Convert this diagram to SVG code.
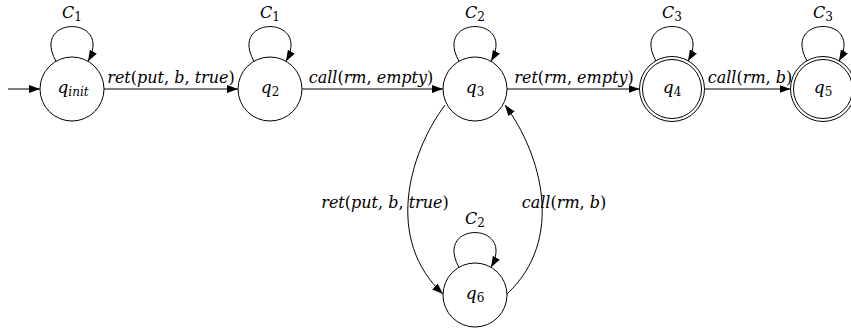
<svg xmlns="http://www.w3.org/2000/svg" width="851" height="330" viewBox="0 0 851 330">
<style>
.n{fill:#fff;stroke:#000;stroke-width:1}
.e{fill:none;stroke:#000;stroke-width:1;marker-end:url(#arr)}
text{font-family:"DejaVu Serif","Liberation Serif",serif;font-size:16px;font-style:italic;fill:#000}
.lbl{text-anchor:middle}
.u{font-style:normal}
.s{font-size:12px}
.q{font-size:17px}
</style>
<defs>
<marker id="arr" viewBox="0 0 11 8" refX="11" refY="4" markerWidth="11" markerHeight="8" markerUnits="userSpaceOnUse" orient="auto">
<path d="M0,0 L11,4 L0,8 z" fill="#000"/>
</marker>
</defs>
<g id="connectors">
<path class="e" d="M8,89 L40,89"/>
<path class="e" d="M104,89 L238,89"/>
<path class="e" d="M302,89 L443,89"/>
<path class="e" d="M507,89 L639.5,89"/>
<path class="e" d="M704.5,89 L790.5,89"/>
<path class="e" d="M445,105 C408,155 385,240 443,294"/>
<path class="e" d="M507,294 C565,240 542,155 505,105"/>
<path class="e" d="M56,61.3 C30,15 114,15 88,61.3"/>
<path class="e" d="M254,61.3 C228,15 312,15 286,61.3"/>
<path class="e" d="M459,61.3 C433,15 517,15 491,61.3"/>
<path class="e" d="M656,61 C630,15 714,15 688,61"/>
<path class="e" d="M807,61 C781,15 865,15 839,61"/>
<path class="e" d="M459,267.3 C433,221 517,221 491,267.3"/>
<text class="lbl" x="171" y="83">ret<tspan class="u">(</tspan>put<tspan class="u">, </tspan>b<tspan class="u">, </tspan>true<tspan class="u">)</tspan></text>
<text class="lbl" x="371" y="83">call<tspan class="u">(</tspan>rm<tspan class="u">, </tspan>empty<tspan class="u">)</tspan></text>
<text class="lbl" x="574" y="83">ret<tspan class="u">(</tspan>rm<tspan class="u">, </tspan>empty<tspan class="u">)</tspan></text>
<text class="lbl" x="750" y="83">call<tspan class="u">(</tspan>rm<tspan class="u">, </tspan>b<tspan class="u">)</tspan></text>
<text class="lbl" x="385" y="208">ret<tspan class="u">(</tspan>put<tspan class="u">, </tspan>b<tspan class="u">, </tspan>true<tspan class="u">)</tspan></text>
<text class="lbl" x="564" y="208">call<tspan class="u">(</tspan>rm<tspan class="u">, </tspan>b<tspan class="u">)</tspan></text>
<text class="lbl" x="72" y="18">C<tspan class="u s" dy="3">1</tspan></text>
<text class="lbl" x="270" y="18">C<tspan class="u s" dy="3">1</tspan></text>
<text class="lbl" x="475" y="18">C<tspan class="u s" dy="3">2</tspan></text>
<text class="lbl" x="672" y="18">C<tspan class="u s" dy="3">3</tspan></text>
<text class="lbl" x="823" y="18">C<tspan class="u s" dy="3">3</tspan></text>
<text class="lbl" x="475" y="224">C<tspan class="u s" dy="3">2</tspan></text>
</g>
<g id="q_init">
<circle class="n" cx="72" cy="89" r="32"/>
<text class="lbl q" x="73" y="93">q<tspan class="s" dy="3">init</tspan></text>
</g>
<g id="q2">
<circle class="n" cx="270" cy="89" r="32"/>
<text class="lbl q" x="270" y="93">q<tspan class="u s" dy="3">2</tspan></text>
</g>
<g id="q3">
<circle class="n" cx="475" cy="89" r="32"/>
<text class="lbl q" x="475" y="93">q<tspan class="u s" dy="3">3</tspan></text>
</g>
<g id="q4">
<circle class="n" cx="672" cy="89" r="32.5"/>
<circle class="n" cx="672" cy="89" r="29.5"/>
<text class="lbl q" x="672" y="93">q<tspan class="u s" dy="3">4</tspan></text>
</g>
<g id="q5">
<circle class="n" cx="823" cy="89" r="32.5"/>
<circle class="n" cx="823" cy="89" r="29.5"/>
<text class="lbl q" x="823" y="93">q<tspan class="u s" dy="3">5</tspan></text>
</g>
<g id="q6">
<circle class="n" cx="475" cy="295" r="32"/>
<text class="lbl q" x="475" y="299">q<tspan class="u s" dy="3">6</tspan></text>
</g>
</svg>
